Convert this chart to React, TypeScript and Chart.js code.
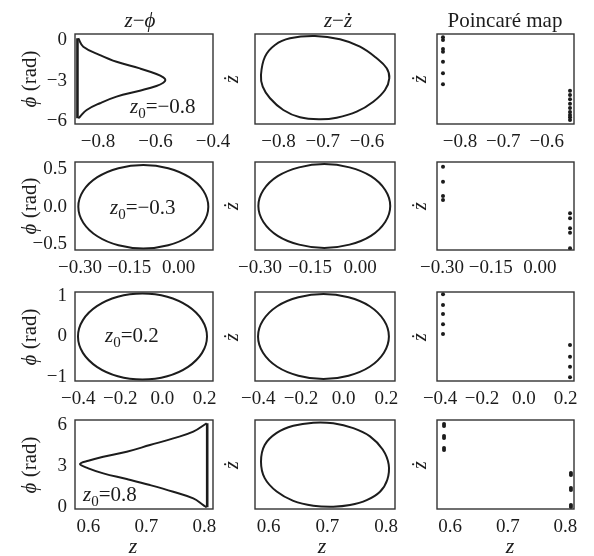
import React, { useEffect, useRef } from 'react';
import { Chart, registerables } from 'chart.js';

Chart.register(...registerables);

const FONT = '"Liberation Serif", "Times New Roman", "DejaVu Serif", serif';
const INK = '#1c1c1c';

// ---------- tick values and labels ----------
const r1c1XTicks = [-0.8, -0.6, -0.4];
const r1c1XLabels = ['\u22120.8', '\u22120.6', '\u22120.4'];
const r1XTicks = [-0.8, -0.7, -0.6];
const r1XLabels = ['\u22120.8', '\u22120.7', '\u22120.6'];
const r1YTicks = [0, -3, -6];
const r1YLabels = ['0', '\u22123', '\u22126'];

const r2XTicks = [-0.3, -0.15, 0];
const r2XLabels = ['\u22120.30', '\u22120.15', '0.00'];
const r2YTicks = [0.5, 0, -0.5];
const r2YLabels = ['0.5', '0.0', '\u22120.5'];

const r3XTicks = [-0.4, -0.2, 0, 0.2];
const r3XLabels = ['\u22120.4', '\u22120.2', '0.0', '0.2'];
const r3YTicks = [1, 0, -1];
const r3YLabels = ['1', '0', '\u22121'];

const r4XTicks = [0.6, 0.7, 0.8];
const r4XLabels = ['0.6', '0.7', '0.8'];
const r4YTicks = [6, 3, 0];
const r4YLabels = ['6', '3', '0'];

// ---------- data: row 1 (z0 = -0.8) ----------
const r1PhaseCurve = [
  [-0.8686, 0.16], [-0.8512, -0.46], [-0.7933, -1.08], [-0.7355, -1.58], [-0.6547, -2.07],
  [-0.5968, -2.48], [-0.5729, -2.73], [-0.5656, -2.93], [-0.5729, -3.13], [-0.5968, -3.37],
  [-0.6547, -3.72], [-0.7355, -4.16], [-0.7933, -4.65], [-0.8394, -5.15], [-0.8627, -5.65],
  [-0.8686, -5.76],
];
const r1PhaseWall = [[-0.8715, 0.16], [-0.8715, -5.76]];
const r1VelLoop = [
  [-0.8395, 0.072], [-0.8304, 0.518], [-0.8079, 0.802], [-0.774, 0.965], [-0.7176, 1.021],
  [-0.6612, 0.941], [-0.616, 0.761], [-0.5783, 0.479], [-0.5557, 0.235], [-0.5499, -0.008],
  [-0.5596, -0.292], [-0.586, -0.577], [-0.6235, -0.82], [-0.6686, -0.966], [-0.7063, -1.005],
  [-0.7515, -0.957], [-0.7891, -0.779], [-0.8191, -0.494], [-0.8356, -0.212],
];
const r1MapLeftZ = -0.8392;
const r1MapLeftV = [0.99, 0.924, 0.705, 0.639, 0.396, 0.114, -0.154];
const r1MapRightZ = -0.5462;
const r1MapRightV = [-0.31, -0.414, -0.519, -0.626, -0.73, -0.828, -0.901, -0.957, -1.022];

// ---------- data: row 2 (z0 = -0.3) ----------
const r2PhaseLoop = [
  [0.0907, 0], [0.0756, 0.214], [0.0328, 0.396], [-0.0314, 0.517], [-0.1071, 0.56],
  [-0.1828, 0.517], [-0.247, 0.396], [-0.2898, 0.214], [-0.3049, 0], [-0.2898, -0.214],
  [-0.247, -0.396], [-0.1828, -0.517], [-0.1071, -0.56], [-0.0314, -0.517], [0.0328, -0.396],
  [0.0756, -0.214],
];
const r2VelLoop = [
  [0.0907, 0], [0.0756, 0.38], [0.0328, 0.71], [-0.0314, 0.92], [-0.1071, 1.0],
  [-0.1828, 0.92], [-0.247, 0.71], [-0.2898, 0.38], [-0.3049, 0], [-0.2898, -0.38],
  [-0.247, -0.71], [-0.1828, -0.92], [-0.1071, -1.0], [-0.0314, -0.92], [0.0328, -0.71],
  [0.0756, -0.38],
];
const r2MapLeftZ = -0.2966;
const r2MapLeftV = [0.936, 0.579, 0.238, 0.143];
const r2MapRightZ = 0.0928;
const r2MapRightV = [-0.174, -0.293, -0.531, -0.636, -1.007];

// ---------- data: row 3 (z0 = 0.2) ----------
const r3PhaseLoop = [
  [0.2115, 0], [0.1882, 0.4], [0.1218, 0.74], [0.0226, 0.97], [-0.0947, 1.05],
  [-0.2119, 0.97], [-0.3111, 0.74], [-0.3775, 0.4], [-0.4008, 0], [-0.3775, -0.4],
  [-0.3111, -0.74], [-0.2119, -0.97], [-0.0947, -1.05], [0.0226, -0.97], [0.1218, -0.74],
  [0.1882, -0.4],
];
const r3VelLoop = [
  [0.2115, 0], [0.1882, 0.38], [0.1218, 0.71], [0.0226, 0.92], [-0.0947, 1.0],
  [-0.2119, 0.92], [-0.3111, 0.71], [-0.3775, 0.38], [-0.4008, 0], [-0.3775, -0.38],
  [-0.3111, -0.71], [-0.2119, -0.92], [-0.0947, -1.0], [0.0226, -0.92], [0.1218, -0.71],
  [0.1882, -0.38],
];
const r3MapLeftZ = -0.3863;
const r3MapLeftV = [0.991, 0.74, 0.528, 0.286, 0.059];
const r3MapRightZ = 0.2209;
const r3MapRightV = [-0.199, -0.474, -0.709, -0.958];

// ---------- data: row 4 (z0 = 0.8) ----------
const r4PhaseCurve = [
  [0.804, 6.13], [0.781, 5.51], [0.7465, 5.02], [0.7063, 4.53], [0.6662, 4.04],
  [0.6258, 3.67], [0.6, 3.38], [0.5856, 3.13], [0.6, 2.82], [0.6258, 2.45],
  [0.6662, 2.03], [0.7063, 1.59], [0.7465, 1.1], [0.781, 0.61], [0.7983, 0.12], [0.804, -0.05],
];
const r4PhaseWall = [[0.805, 6.13], [0.805, -0.05]];
const r4VelLoop = [
  [0.5872, 0.071], [0.5935, 0.47], [0.6139, 0.757], [0.6421, 0.925], [0.6761, 1.0],
  [0.7101, 0.985], [0.7441, 0.87], [0.7725, 0.675], [0.7941, 0.36], [0.8043, 0.0],
  [0.8019, -0.36], [0.7895, -0.645], [0.7669, -0.845], [0.7385, -0.962], [0.7101, -1.0],
  [0.6761, -0.976], [0.6421, -0.86], [0.6139, -0.64], [0.5935, -0.32],
];
const r4MapLeftZ = 0.5892;
const r4MapLeftV = [0.969, 0.921, 0.683, 0.636, 0.398, 0.35];
const r4MapRightZ = 0.8097;
const r4MapRightV = [-0.198, -0.246, -0.555, -0.602, -0.96, -1.007];

// ---------- layout ----------
const ML = 55, MR = 30, MT = 12, MB = 34;
const COLS = [[75, 213], [255, 395], [437, 574]];
const ROWS = [[34, 124], [162, 250], [292, 381], [420, 509]];

type Pt = number[];
const toXY = (pts: Pt[]) => pts.map(([x, y]) => ({ x, y }));

const curve = (pts: Pt[]) => ({
  data: toXY(pts),
  showLine: true,
  pointRadius: 0,
  borderColor: INK,
  borderWidth: 2,
  tension: 0.4,
  fill: false,
});

// closed loop: pad with neighbours so every visible vertex has both neighbours,
// and hide the two padding segments
const loop = (pts: Pt[]) => {
  const padded = [pts[pts.length - 1], ...pts, pts[0], pts[1]];
  const n = padded.length;
  return {
    data: toXY(padded),
    showLine: true,
    pointRadius: 0,
    borderColor: INK,
    borderWidth: 2,
    tension: 0.4,
    fill: false,
    segment: {
      borderColor: (c: any) => (c.p0DataIndex === 0 || c.p1DataIndex === n - 1 ? 'rgba(0,0,0,0)' : INK),
    },
  };
};
const wall = (pts: Pt[]) => ({
  data: toXY(pts),
  showLine: true,
  pointRadius: 0,
  borderColor: INK,
  borderWidth: 2.6,
  tension: 0,
  fill: false,
});
const dots = (z: number, vals: number[]) => ({
  data: vals.map((v) => ({ x: z, y: v })),
  showLine: false,
  pointRadius: 2,
  pointBackgroundColor: INK,
  pointBorderWidth: 0,
  borderColor: INK,
});

type PanelCfg = {
  row: number; col: number;
  xMin: number; xMax: number; yMin: number; yMax: number;
  xTicks: number[]; xLabels: string[];
  yTicks?: number[]; yLabels?: string[];
  datasets: any[];
};

const panels: PanelCfg[] = [
  { row: 0, col: 0, xMin: -0.88, xMax: -0.4, yMin: -6.19, yMax: 0.48, xTicks: r1c1XTicks, xLabels: r1c1XLabels, yTicks: r1YTicks, yLabels: r1YLabels,
    datasets: [curve(r1PhaseCurve), wall(r1PhaseWall)] },
  { row: 0, col: 1, xMin: -0.853, xMax: -0.537, yMin: -1.12, yMax: 1.07, xTicks: r1XTicks, xLabels: r1XLabels,
    datasets: [loop(r1VelLoop)] },
  { row: 0, col: 2, xMin: -0.853, xMax: -0.537, yMin: -1.12, yMax: 1.07, xTicks: r1XTicks, xLabels: r1XLabels,
    datasets: [dots(r1MapLeftZ, r1MapLeftV), dots(r1MapRightZ, r1MapRightV)] },

  { row: 1, col: 0, xMin: -0.315, xMax: 0.105, yMin: -0.58, yMax: 0.6, xTicks: r2XTicks, xLabels: r2XLabels, yTicks: r2YTicks, yLabels: r2YLabels,
    datasets: [loop(r2PhaseLoop)] },
  { row: 1, col: 1, xMin: -0.315, xMax: 0.105, yMin: -1.048, yMax: 1.048, xTicks: r2XTicks, xLabels: r2XLabels,
    datasets: [loop(r2VelLoop)] },
  { row: 1, col: 2, xMin: -0.315, xMax: 0.105, yMin: -1.048, yMax: 1.048, xTicks: r2XTicks, xLabels: r2XLabels,
    datasets: [dots(r2MapLeftZ, r2MapLeftV), dots(r2MapRightZ, r2MapRightV)] },

  { row: 2, col: 0, xMin: -0.415, xMax: 0.24, yMin: -1.087, yMax: 1.087, xTicks: r3XTicks, xLabels: r3XLabels, yTicks: r3YTicks, yLabels: r3YLabels,
    datasets: [loop(r3PhaseLoop)] },
  { row: 2, col: 1, xMin: -0.415, xMax: 0.24, yMin: -1.045, yMax: 1.045, xTicks: r3XTicks, xLabels: r3XLabels,
    datasets: [loop(r3VelLoop)] },
  { row: 2, col: 2, xMin: -0.415, xMax: 0.24, yMin: -1.045, yMax: 1.045, xTicks: r3XTicks, xLabels: r3XLabels,
    datasets: [dots(r3MapLeftZ, r3MapLeftV), dots(r3MapRightZ, r3MapRightV)] },

  { row: 3, col: 0, xMin: 0.577, xMax: 0.815, yMin: -0.17, yMax: 6.37, xTicks: r4XTicks, xLabels: r4XLabels, yTicks: r4YTicks, yLabels: r4YLabels,
    datasets: [curve(r4PhaseCurve), wall(r4PhaseWall)] },
  { row: 3, col: 1, xMin: 0.577, xMax: 0.815, yMin: -1.055, yMax: 1.064, xTicks: r4XTicks, xLabels: r4XLabels,
    datasets: [loop(r4VelLoop)] },
  { row: 3, col: 2, xMin: 0.577, xMax: 0.815, yMin: -1.055, yMax: 1.064, xTicks: r4XTicks, xLabels: r4XLabels,
    datasets: [dots(r4MapLeftZ, r4MapLeftV), dots(r4MapRightZ, r4MapRightV)] },
];

const boxPlugin = {
  id: 'panelBox',
  afterDraw(chart: any) {
    const { ctx, chartArea: a } = chart;
    ctx.save();
    ctx.strokeStyle = '#333';
    ctx.lineWidth = 1.4;
    ctx.strokeRect(a.left, a.top, a.right - a.left, a.bottom - a.top);
    ctx.restore();
  },
};

function Panel({ cfg }: { cfg: PanelCfg }) {
  const ref = useRef<HTMLCanvasElement | null>(null);
  const [l, r] = COLS[cfg.col];
  const [t, b] = ROWS[cfg.row];
  const w = r - l + ML + MR;
  const h = b - t + MT + MB;
  useEffect(() => {
    const tickFont = { family: FONT, size: 19 };
    const chart = new Chart(ref.current as HTMLCanvasElement, {
      type: 'scatter',
      data: { datasets: cfg.datasets },
      options: {
        animation: false,
        responsive: false,
        devicePixelRatio: 1,
        layout: { padding: { top: MT, right: MR, left: 0, bottom: 0 } },
        plugins: { legend: { display: false }, tooltip: { enabled: false }, title: { display: false } },
        scales: {
          x: {
            type: 'linear',
            min: cfg.xMin,
            max: cfg.xMax,
            grid: { display: false, drawTicks: false },
            border: { display: false },
            ticks: {
              display: true,
              padding: 7,
              autoSkip: false,
              maxRotation: 0,
              minRotation: 0,
              color: INK,
              font: tickFont,
              callback: (_v: any, i: number) => cfg.xLabels[i] ?? '',
            },
            afterBuildTicks: (s: any) => { s.ticks = cfg.xTicks.map((v) => ({ value: v })); },
            afterFit: (s: any) => { s.height = MB; s.paddingLeft = 0; s.paddingRight = 0; s.paddingTop = 0; s.paddingBottom = 0; },
          },
          y: {
            type: 'linear',
            min: cfg.yMin,
            max: cfg.yMax,
            grid: { display: false, drawTicks: false },
            border: { display: false },
            ticks: {
              display: !!cfg.yTicks,
              padding: 8,
              autoSkip: false,
              color: INK,
              font: tickFont,
              callback: (_v: any, i: number) => (cfg.yLabels ? cfg.yLabels[i] ?? '' : ''),
            },
            afterBuildTicks: (s: any) => { s.ticks = (cfg.yTicks || []).map((v) => ({ value: v })); },
            afterFit: (s: any) => { s.width = ML; s.paddingLeft = 0; s.paddingRight = 0; s.paddingTop = 0; s.paddingBottom = 0; },
          },
        },
      },
      plugins: [boxPlugin],
    } as any);
    return () => chart.destroy();
  }, []);
  return (
    <canvas
      ref={ref}
      width={w}
      height={h}
      style={{ position: 'absolute', left: l - ML, top: t - MT, width: w, height: h }}
    />
  );
}

function Txt({ x, y, size = 20, rotate = 0, children }: any) {
  return (
    <div
      style={{
        position: 'absolute',
        left: x,
        top: y,
        transform: `translate(-50%, -50%) rotate(${rotate}deg)`,
        fontFamily: FONT,
        fontSize: size,
        lineHeight: 1,
        whiteSpace: 'nowrap',
        color: INK,
      }}
    >
      {children}
    </div>
  );
}

function Z0({ x, y, value }: any) {
  return (
    <div
      style={{
        position: 'absolute',
        left: x,
        top: y,
        fontFamily: FONT,
        fontSize: 21,
        lineHeight: '21px',
        whiteSpace: 'nowrap',
        color: INK,
      }}
    >
      <i>z</i>
      <span style={{ fontSize: 15, position: 'relative', top: 5 }}>0</span>={value}
    </div>
  );
}

const z0Values = ['\u22120.8', '\u22120.3', '0.2', '0.8'];
const rowCenters = ROWS.map(([t, b]) => (t + b) / 2);

export default function App() {
  return (
    <div style={{ position: 'absolute', left: 0, top: 0, width: 594, height: 556, background: '#fff', overflow: 'hidden' }}>
      {panels.map((p, i) => (
        <Panel key={i} cfg={p} />
      ))}
      <Txt x={140} y={20} size={21}><i>z</i>{'\u2212'}<i>ϕ</i></Txt>
      <Txt x={338} y={20} size={21}><i>z</i>{'\u2212'}<i>ż</i></Txt>
      <Txt x={505} y={20} size={21}>Poincaré map</Txt>
      {rowCenters.map((c, i) => (
        <React.Fragment key={i}>
          <Txt x={29} y={c} size={21} rotate={-90}><i>ϕ</i> (rad)</Txt>
          <Txt x={231} y={c} size={20} rotate={-90}><i>ż</i></Txt>
          <Txt x={419} y={c} size={20} rotate={-90}><i>ż</i></Txt>
        </React.Fragment>
      ))}
      <Z0 x={130} y={96} value={z0Values[0]} />
      <Z0 x={110} y={197} value={z0Values[1]} />
      <Z0 x={105} y={325} value={z0Values[2]} />
      <Z0 x={83} y={484} value={z0Values[3]} />
      <Txt x={133} y={546} size={22}><i>z</i></Txt>
      <Txt x={322} y={546} size={22}><i>z</i></Txt>
      <Txt x={510} y={546} size={22}><i>z</i></Txt>
    </div>
  );
}
